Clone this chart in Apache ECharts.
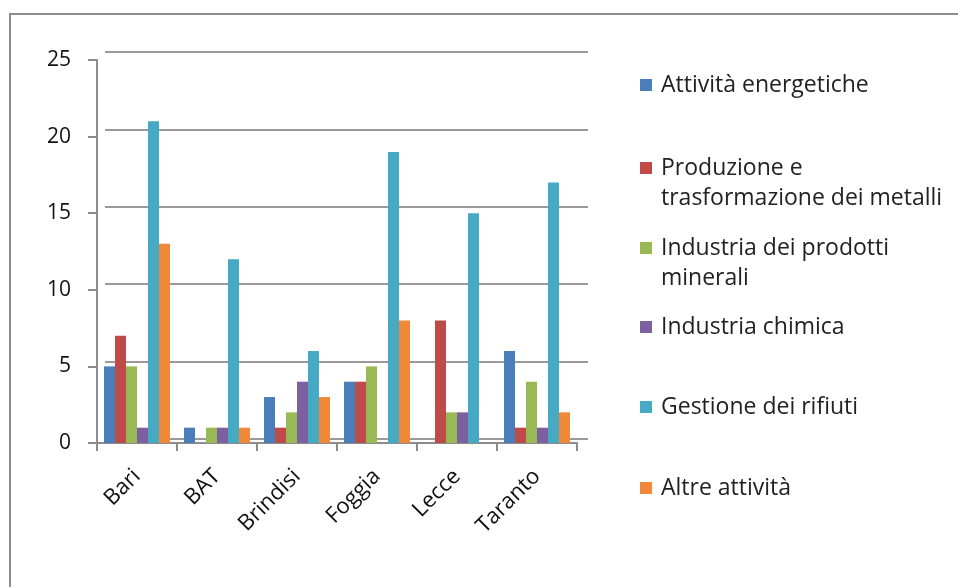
<!DOCTYPE html>
<html>
<head>
<meta charset="utf-8">
<script src="https://cdn.jsdelivr.net/npm/echarts@6/dist/echarts.min.js"></script>
<style>html,body{margin:0;padding:0;background:#fff}#c{width:958px;height:587px}</style>
</head>
<body>
<div id="c"></div>
<script>
const categories = ['Bari', 'BAT', 'Brindisi', 'Foggia', 'Lecce', 'Taranto'];
const seriesNames = ['Attività energetiche', 'Produzione e\ntrasformazione dei metalli', 'Industria dei prodotti\nminerali', 'Industria chimica', 'Gestione dei rifiuti', 'Altre attività'];
const attivitaEnergetiche = [5, 1, 3, 4, 0, 6];
const produzioneMetalli = [7, 0, 1, 4, 8, 1];
const prodottiMinerali = [5, 1, 2, 5, 2, 4];
const industriaChimica = [1, 1, 4, 0, 2, 1];
const gestioneRifiuti = [21, 12, 6, 19, 15, 17];
const altreAttivita = [13, 1, 3, 8, 0, 2];
const yTicks = { min: 0, max: 25, interval: 5 };

const values = [attivitaEnergetiche, produzioneMetalli, prodottiMinerali, industriaChimica, gestioneRifiuti, altreAttivita];
const colors = ['#4a7ebb', '#be4b48', '#98b954', '#7d60a0', '#46aac5', '#f0883a'];
const FONT = 'Open Sans';

const chart = echarts.init(document.getElementById('c'), null, { renderer: 'canvas' });

const legendTops = [70, 153, 233, 312, 392, 473];
const legends = seriesNames.map((n, i) => {
  const two = n.indexOf('\n') >= 0;
  return {
    data: [two ? { name: n, icon: 'path://M0,0H12M0,9H12V21H0Z M0,60H12' } : { name: n, icon: 'rect' }],
    left: 640, top: legendTops[i], orient: 'vertical', padding: 0,
    itemWidth: 12, itemHeight: two ? 60 : 12, itemGap: 0,
    textStyle: { fontFamily: FONT, fontSize: 23, color: '#222', lineHeight: 30, padding: [0,0,0,4] },
    selectedMode: false
  };
});

chart.setOption({
  animation: false,
  graphic: [{ type: 'rect', shape: { x: 10, y: 14, width: 960, height: 600 }, style: { fill: 'none', stroke: '#8c8c8c', lineWidth: 2 }, silent: true }],
  legend: legends,
  grid: [
    { left: 97, top: 60, width: 480, height: 383 },
    { left: 105, top: 52, width: 483, height: 387 }
  ],
  xAxis: [
    { type: 'category', gridIndex: 0, data: categories,
      axisLine: { lineStyle: { color: '#8c8c8c', width: 2 } },
      axisTick: { show: true, length: 8, lineStyle: { color: '#8c8c8c', width: 2 } },
      axisLabel: { rotate: 45, margin: 30, fontFamily: FONT, fontSize: 22, color: '#111' } },
    { type: 'category', gridIndex: 1, data: categories, show: false }
  ],
  yAxis: [
    { type: 'value', gridIndex: 0, min: yTicks.min, max: yTicks.max, interval: yTicks.interval,
      axisLine: { show: true, lineStyle: { color: '#8c8c8c', width: 2 } },
      axisTick: { show: true, length: 9, lineStyle: { color: '#8c8c8c', width: 2 } },
      splitLine: { show: false },
      axisLabel: { margin: 26, fontFamily: FONT, fontSize: 21, color: '#111' } },
    { type: 'value', gridIndex: 1, min: yTicks.min, max: yTicks.max, interval: yTicks.interval,
      axisLine: { show: false }, axisTick: { show: false }, axisLabel: { show: false },
      splitLine: { show: true, lineStyle: { color: '#9a9a9a', width: 2 } } }
  ],
  series: seriesNames.map((n, i) => ({
    name: n, type: 'bar', xAxisIndex: 0, yAxisIndex: 0,
    data: values[i], barWidth: 11, barGap: '0%',
    itemStyle: { color: colors[i] }
  }))
});
</script>
</body>
</html>
